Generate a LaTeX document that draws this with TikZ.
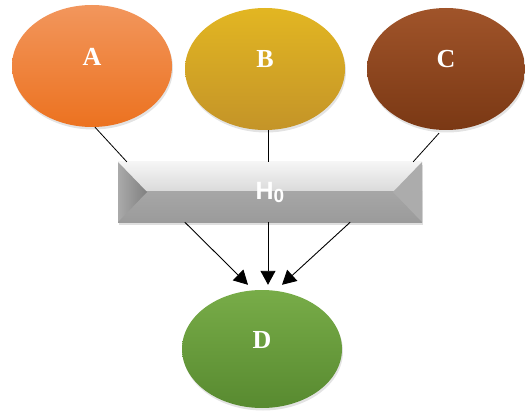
\documentclass[tikz,border=0pt]{standalone}
\usepackage{fontspec}
\setmainfont{Liberation Serif}
\newfontfamily\hfont{Liberation Sans}
\usetikzlibrary{shapes.geometric,arrows.meta,calc,shadows}
\definecolor{aTop}{RGB}{242,150,92}
\definecolor{aMid}{RGB}{240,124,46}
\definecolor{aBot}{RGB}{236,114,32}
\definecolor{bTop}{RGB}{226,182,34}
\definecolor{bMid}{RGB}{206,160,36}
\definecolor{bBot}{RGB}{196,148,40}
\definecolor{cTop}{RGB}{160,84,42}
\definecolor{cMid}{RGB}{134,64,26}
\definecolor{cBot}{RGB}{122,56,20}
\definecolor{dTop}{RGB}{120,172,72}
\definecolor{dMid}{RGB}{100,150,56}
\definecolor{dBot}{RGB}{88,138,48}
\definecolor{hTopA}{RGB}{245,245,245}
\definecolor{hTopB}{RGB}{190,190,190}
\definecolor{hLow}{RGB}{166,166,166}
\definecolor{hLowB}{RGB}{155,155,155}
\definecolor{hLeftA}{RGB}{170,170,170}
\definecolor{hLeftB}{RGB}{128,128,128}
\definecolor{hRight}{RGB}{172,172,172}
\begin{document}
\begin{tikzpicture}[x=1pt,y=-1pt,
  oval/.style={ellipse, minimum width=160pt, minimum height=122pt, inner sep=0pt,
    text=white, font=\bfseries\fontsize{26}{30}\selectfont,
    drop shadow={opacity=0.22, shadow xshift=1pt, shadow yshift=-2.5pt}},
  hbox/.style={rectangle, minimum width=304pt, minimum height=60pt, inner sep=0pt,
    text=white, font=\hfont\bfseries\fontsize{25}{28}\selectfont,
    drop shadow={opacity=0.25, shadow xshift=1pt, shadow yshift=-3pt},
    fill=hLow,
    path picture={
      \shade[top color=hTopA, bottom color=hTopB]
        (path picture bounding box.north west) rectangle (path picture bounding box.east);
      \shade[top color=hLow, bottom color=hLowB]
        (path picture bounding box.west) rectangle (path picture bounding box.south east);
      \shade[left color=hLeftA, right color=hLeftB]
        (path picture bounding box.north west) -- ([xshift=29pt]path picture bounding box.west)
        -- (path picture bounding box.south west) -- cycle;
      \fill[hRight]
        (path picture bounding box.north east) -- ([xshift=-29pt]path picture bounding box.east)
        -- (path picture bounding box.south east) -- cycle;
    }},
  link/.style={line width=0.8pt, black},
  arr/.style={line width=0.9pt, black, -{Triangle[length=14pt,width=15pt]}}]
\useasboundingbox (0,0) rectangle (525,417);
\node[oval, top color=aTop, middle color=aMid, bottom color=aBot] (A) at (92,66) {\raisebox{18pt}{A}};
\node[oval, top color=bTop, middle color=bMid, bottom color=bBot] (B) at (265,69) {\raisebox{20pt}{B}};
\node[oval, top color=cTop, middle color=cMid, bottom color=cBot, minimum width=158pt] (C) at (446,69) {\raisebox{20pt}{C}};
\node[oval, top color=dTop, middle color=dMid, bottom color=dBot, minimum height=118pt] (D) at (262,349) {\raisebox{18pt}{D}};
\node[hbox] (H) at (270,192) {H\raisebox{-3pt}{\fontsize{19}{21}\selectfont 0}};
\draw[link] ([xshift=3pt]A.south) -- ([xshift=9pt]H.north west);
\draw[link] ([xshift=3pt]B.south) -- ([xshift=-2pt]H.north);
\draw[link] ([xshift=-7pt,yshift=-3pt]C.south) -- ([xshift=-9pt]H.north east);
\draw[arr] ([xshift=67pt]H.south west) -- ([xshift=-14pt,yshift=5pt]D.north);
\draw[arr] ([xshift=-2pt]H.south) -- ([xshift=6pt,yshift=5pt]D.north);
\draw[arr] ([xshift=-72pt]H.south east) -- ([xshift=20pt,yshift=5pt]D.north);
\end{tikzpicture}
\end{document}
